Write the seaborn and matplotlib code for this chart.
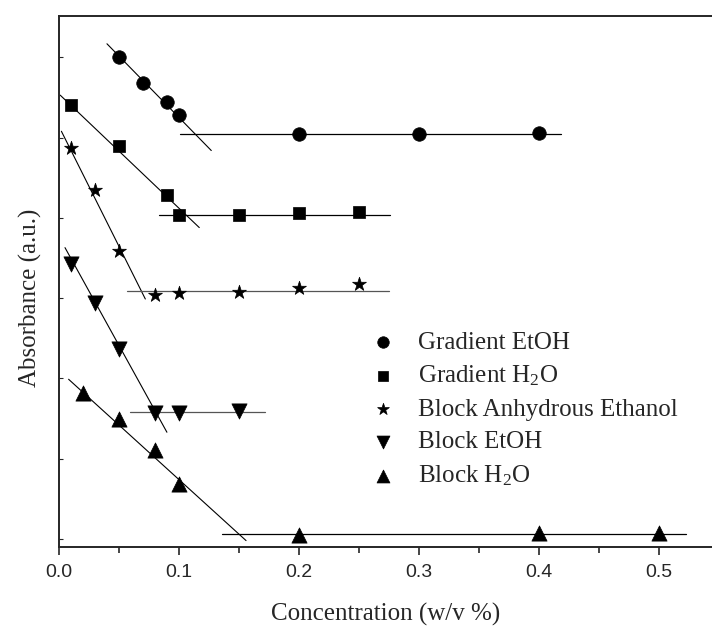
import numpy as np
import matplotlib
matplotlib.use("Agg")
import matplotlib.pyplot as plt
from matplotlib.ticker import MultipleLocator, NullFormatter
import seaborn as sns

# concentrations (w/v %) and absorbance (a.u.)
grad_etoh_x = [0.05, 0.07, 0.09, 0.10, 0.20, 0.30, 0.40]
grad_etoh_y = [6.10, 5.78, 5.55, 5.38, 5.14, 5.15, 5.16]
grad_h2o_x = [0.01, 0.05, 0.09, 0.10, 0.15, 0.20, 0.25]
grad_h2o_y = [5.51, 5.00, 4.38, 4.14, 4.14, 4.16, 4.18]
block_anh_x = [0.01, 0.03, 0.05, 0.08, 0.10, 0.15, 0.20, 0.25]
block_anh_y = [4.97, 4.45, 3.69, 3.14, 3.16, 3.18, 3.23, 3.28]
block_etoh_x = [0.01, 0.03, 0.05, 0.08, 0.10, 0.15]
block_etoh_y = [3.53, 3.04, 2.47, 1.67, 1.67, 1.69]
block_h2o_x = [0.02, 0.05, 0.08, 0.10, 0.20, 0.40, 0.50]
block_h2o_y = [1.92, 1.60, 1.21, 0.78, 0.15, 0.17, 0.18]

# fitted straight lines (slope part and plateau part)
grad_etoh_fit_x = [0.040, 0.127]
grad_etoh_fit_y = [6.27, 4.94]
grad_etoh_flat_x = [0.101, 0.419]
grad_etoh_flat_y = [5.14, 5.14]
grad_h2o_fit_x = [0.001, 0.117]
grad_h2o_fit_y = [5.63, 3.98]
grad_h2o_flat_x = [0.083, 0.276]
grad_h2o_flat_y = [4.14, 4.14]
block_anh_fit_x = [0.002, 0.072]
block_anh_fit_y = [5.18, 3.09]
block_anh_flat_x = [0.057, 0.275]
block_anh_flat_y = [3.19, 3.19]
block_etoh_fit_x = [0.005, 0.090]
block_etoh_fit_y = [3.73, 1.43]
block_etoh_flat_x = [0.059, 0.172]
block_etoh_flat_y = [1.685, 1.685]
block_h2o_fit_x = [0.008, 0.156]
block_h2o_fit_y = [2.09, 0.08]
block_h2o_flat_x = [0.136, 0.523]
block_h2o_flat_y = [0.158, 0.158]

series = [
    ("Gradient EtOH", grad_etoh_x, grad_etoh_y, "o", 95,
     grad_etoh_fit_x, grad_etoh_fit_y, grad_etoh_flat_x, grad_etoh_flat_y, "black"),
    ("Gradient H$_2$O", grad_h2o_x, grad_h2o_y, "s", 75,
     grad_h2o_fit_x, grad_h2o_fit_y, grad_h2o_flat_x, grad_h2o_flat_y, "black"),
    ("Block Anhydrous Ethanol", block_anh_x, block_anh_y, "*", 110,
     block_anh_fit_x, block_anh_fit_y, block_anh_flat_x, block_anh_flat_y, "#555555"),
    ("Block EtOH", block_etoh_x, block_etoh_y, "v", 120,
     block_etoh_fit_x, block_etoh_fit_y, block_etoh_flat_x, block_etoh_flat_y, "#555555"),
    ("Block H$_2$O", block_h2o_x, block_h2o_y, "^", 120,
     block_h2o_fit_x, block_h2o_fit_y, block_h2o_flat_x, block_h2o_flat_y, "black"),
]

sns.set_style("ticks")
plt.rcParams["font.family"] = ["Liberation Serif", "DejaVu Serif"]
plt.rcParams["mathtext.fontset"] = "custom"
plt.rcParams["mathtext.rm"] = "Liberation Serif"
plt.rcParams["mathtext.it"] = "Liberation Serif:italic"

fig = plt.figure(figsize=(7.12, 6.31), dpi=100)
ax = fig.add_axes([59 / 712, 84 / 631, 653 / 712, 531.3 / 631])

for name, xs, ys, mk, sz, fx, fy, hx, hy, hcol in series:
    sns.lineplot(x=fx, y=fy, ax=ax, color="black", linewidth=0.8,
                 estimator=None, sort=False, legend=False)
    sns.lineplot(x=hx, y=hy, ax=ax, color=hcol, linewidth=0.9,
                 estimator=None, sort=False, legend=False)
    sns.scatterplot(x=xs, y=ys, ax=ax, marker=mk, s=sz, color="black",
                    edgecolor="black", linewidth=0.5, label=name, zorder=3)

ax.set_xlim(0, 0.5446)
ax.set_ylim(0, 6.62)
ax.xaxis.set_major_locator(MultipleLocator(0.1))
ax.xaxis.set_minor_locator(MultipleLocator(0.05))
ax.set_yticks(np.arange(0.1, 6.2, 1.0))
ax.yaxis.set_major_formatter(NullFormatter())
ax.tick_params(axis="x", which="major", direction="out", length=6, width=1.2,
               labelsize=14, labelfontfamily="Liberation Sans", pad=6)
ax.tick_params(axis="x", which="minor", direction="out", length=4, width=1.2)
ax.tick_params(axis="y", which="major", direction="in", length=3, width=0.8)

ax.spines["right"].set_visible(False)
for side in ["left", "bottom", "top"]:
    ax.spines[side].set_linewidth(1.4)

ax.set_xlabel("Concentration (w/v %)", fontsize=18, labelpad=16)
ax.set_ylabel("Absorbance (a.u.)", fontsize=18, labelpad=9)
ax.yaxis.label.set_y(0.469)

leg = ax.legend(loc="upper left", bbox_to_anchor=(0.4426, 0.425), frameon=False,
                fontsize=18, markerscale=0.85, handletextpad=0.4,
                labelspacing=0.4, borderaxespad=0)

fig.savefig("out.png", dpi=100)
